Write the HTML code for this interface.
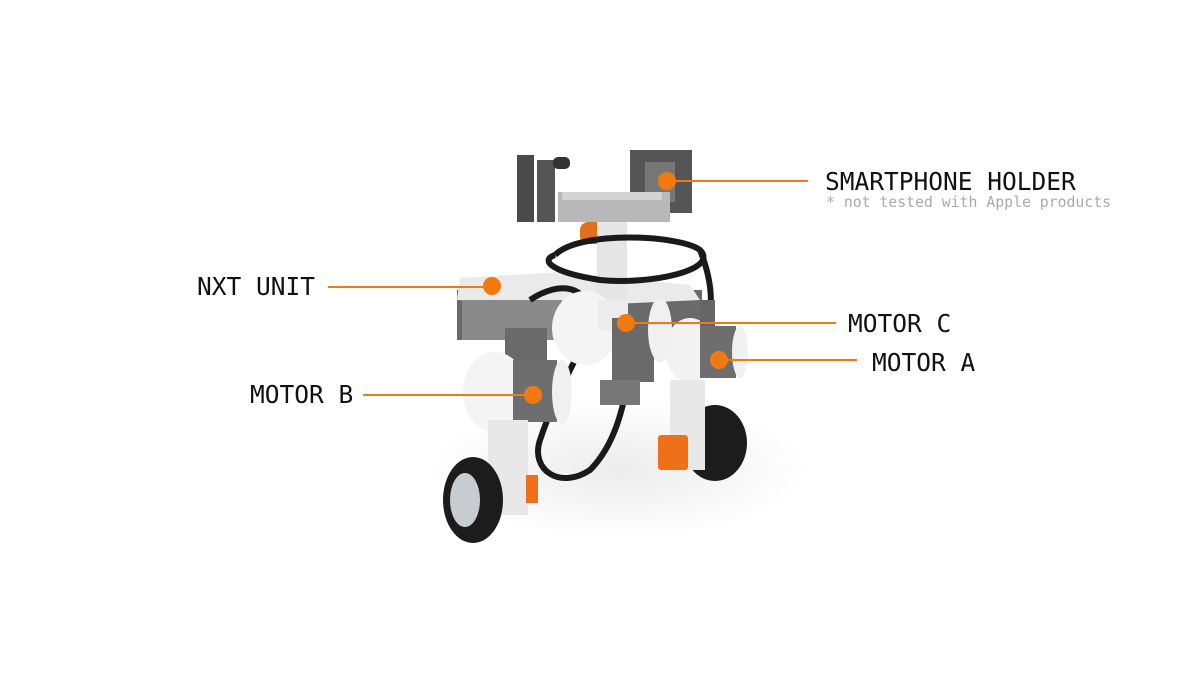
<!DOCTYPE html>
<html><head><meta charset="utf-8"><style>
html,body{margin:0;padding:0;background:#fff;}
svg{display:block}
text{font-family:"DejaVu Sans Mono","Liberation Mono",monospace;}
</style></head><body>
<svg width="1200" height="673" viewBox="0 0 1200 673" xmlns="http://www.w3.org/2000/svg">
<defs>
<radialGradient id="sh" cx="0.5" cy="0.5" r="0.5"><stop offset="0" stop-color="#ececec"/><stop offset="1" stop-color="#fff"/></radialGradient>
</defs>
<ellipse cx="620" cy="470" rx="190" ry="70" fill="url(#sh)"/>
<!-- NXT unit -->
<rect x="457" y="290" width="245" height="50" fill="#6a6a6a"/>
<path d="M460 278 L560 272 L690 285 L700 300 L570 306 L457 300 Z" fill="#eaeaea"/>
<rect x="462" y="300" width="100" height="40" fill="#8a8a8a"/>
<!-- holder -->
<rect x="517" y="155" width="17" height="67" fill="#4a4a4a"/>
<rect x="537" y="160" width="18" height="62" fill="#555"/>
<rect x="553" y="157" width="17" height="12" rx="5" fill="#333"/>
<rect x="630" y="150" width="62" height="63" fill="#555"/>
<rect x="645" y="162" width="30" height="40" fill="#777"/>
<rect x="558" y="192" width="112" height="30" fill="#b8b8b8"/>
<rect x="562" y="192" width="100" height="8" fill="#d2d2d2"/>
<rect x="580" y="222" width="30" height="22" rx="8" fill="#e0701a"/>
<rect x="597" y="222" width="30" height="90" fill="#e6e6e6"/>
<!-- cable -->
<g fill="none" stroke="#1a1a1a" stroke-width="6">
<path d="M555 255 C 580 230, 680 235, 700 250 C 720 270, 650 285, 600 280 C 550 272, 540 260, 555 255"/>
<path d="M700 250 C 720 300, 710 330, 690 360"/>
<path d="M530 300 C 560 280, 590 285, 590 320 C 590 340, 560 380, 540 440 C 530 470, 560 490, 590 470 C 610 450, 620 420, 625 395"/>
</g>
<!-- Motor A -->
<ellipse cx="690" cy="350" rx="25" ry="32" fill="#f2f2f2"/>
<rect x="700" y="300" width="15" height="30" fill="#666"/>
<rect x="700" y="326" width="36" height="52" fill="#6e6e6e"/>
<ellipse cx="740" cy="352" rx="8" ry="26" fill="#f0f0f0"/>
<!-- right leg & wheel -->
<ellipse cx="715" cy="443" rx="32" ry="38" fill="#1c1c1c"/>
<rect x="670" y="380" width="35" height="90" fill="#e8e8e8"/>
<rect x="658" y="435" width="30" height="35" rx="3" fill="#f0701a"/>
<!-- Motor C -->
<ellipse cx="585" cy="328" rx="33" ry="37" fill="#f4f4f4"/>
<rect x="598" y="300" width="30" height="30" fill="#ececec"/>
<rect x="612" y="318" width="42" height="64" fill="#6a6a6a"/>
<ellipse cx="660" cy="330" rx="12" ry="32" fill="#f0f0f0"/>
<rect x="600" y="380" width="40" height="25" fill="#777"/>
<!-- Motor B -->
<rect x="505" y="328" width="42" height="37" fill="#6a6a6a"/>
<ellipse cx="495" cy="392" rx="32" ry="40" fill="#f4f4f4"/>
<rect x="513" y="360" width="44" height="62" fill="#6e6e6e"/>
<ellipse cx="562" cy="392" rx="10" ry="32" fill="#f0f0f0"/>
<!-- left leg & wheel -->
<rect x="488" y="420" width="40" height="95" fill="#e8e8e8"/>
<rect x="526" y="475" width="12" height="28" fill="#f0701a"/>
<ellipse cx="473" cy="500" rx="30" ry="43" fill="#1c1c1c"/>
<ellipse cx="465" cy="500" rx="15" ry="27" fill="#c8ccd0"/>
<!-- connectors -->
<g stroke="#f07a10" stroke-width="2">
<line x1="667" y1="181" x2="808" y2="181"/>
<line x1="328" y1="287" x2="492" y2="287"/>
<line x1="626" y1="323" x2="836" y2="323"/>
<line x1="719" y1="360" x2="857" y2="360"/>
<line x1="363" y1="395" x2="533" y2="395"/>
</g>
<g fill="#f07a10">
<circle cx="667" cy="181" r="9"/>
<circle cx="492" cy="286" r="9"/>
<circle cx="626" cy="323" r="9"/>
<circle cx="719" cy="360" r="9"/>
<circle cx="533" cy="395" r="9"/>
</g>
<g fill="#111" font-size="24.5">
<text x="825" y="190">SMARTPHONE HOLDER</text>
<text x="197" y="295">NXT UNIT</text>
<text x="848" y="332">MOTOR C</text>
<text x="872" y="371">MOTOR A</text>
<text x="250" y="403">MOTOR B</text>
</g>
<text x="826" y="207" font-size="14.8" fill="#aaa">* not tested with Apple products</text>
</svg>
</body></html>
